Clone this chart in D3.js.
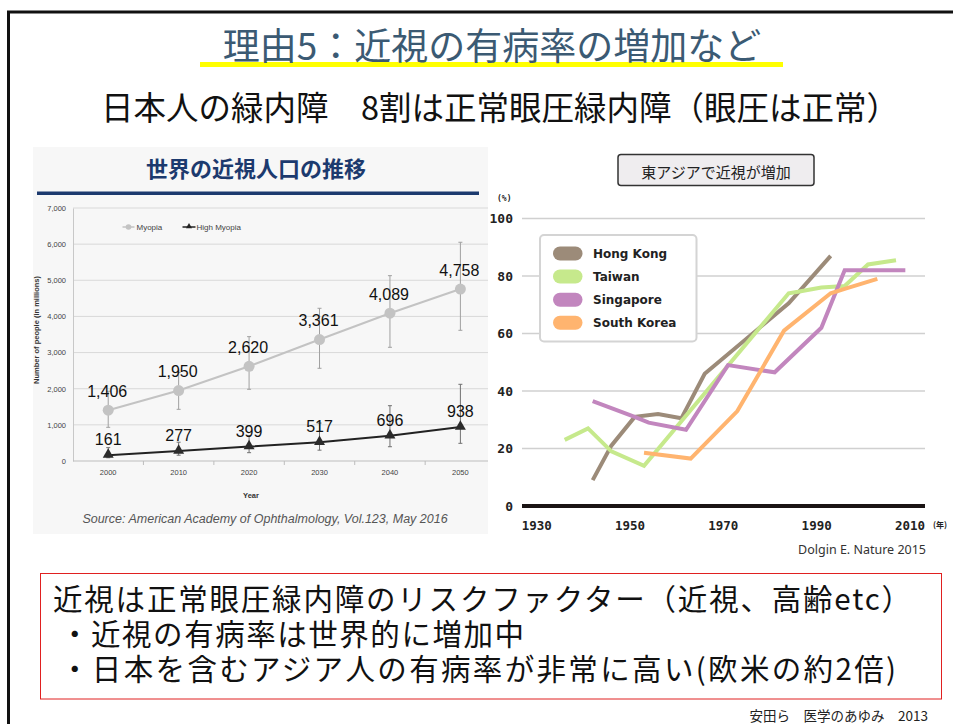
<!DOCTYPE html>
<html>
<head>
<meta charset="utf-8">
<script src="https://cdn.jsdelivr.net/npm/d3@7"></script>
<style>
  body { margin: 0; background: #fff; }
  svg { display: block; }
</style>
</head>
<body>
<svg id="slide" width="953" height="724"></svg>
<script>
// ---- World myopia population (millions) ----
const years = [2000, 2010, 2020, 2030, 2040, 2050];
const myopia = [1406, 1950, 2620, 3361, 4089, 4758];
const myopiaLow = [932, 1430, 1984, 2565, 3146, 3616];
const myopiaHigh = [1930, 2450, 3440, 4225, 5128, 6052];
const highMyopia = [161, 277, 399, 517, 696, 938];
const highMyopiaLow = [90, 160, 230, 300, 395, 489];
const highMyopiaHigh = [370, 520, 700, 1050, 1530, 2122];
const popTicks = [0, 1000, 2000, 3000, 4000, 5000, 6000, 7000];
const popSeriesNames = ["Myopia", "High Myopia"];

// ---- Myopia prevalence in East Asia (%) : [year, percent] ----
const regions = ["Hong Kong", "Taiwan", "Singapore", "South Korea"];
const regionColors = ["#9c8b79", "#c6e98c", "#c286be", "#ffb46f"];
const hongKong = [[1942, 9], [1946, 21], [1951, 31], [1956, 32], [1961, 30.5], [1966, 46], [1984, 70.5], [1993, 87]];
const taiwan = [[1936, 23], [1941, 27], [1946, 19], [1953, 14], [1984, 74], [1986, 74.5], [1991, 76], [1996, 76.5], [2001, 84], [2007, 85.5]];
const singapore = [[1942, 36.5], [1951, 31], [1954, 29], [1962, 26.5], [1971, 49], [1981, 46.5], [1991, 62], [1996, 82], [2009, 82]];
const southKorea = [[1953, 18.5], [1963, 16.5], [1973, 33], [1983, 61], [1993, 74], [1996, 75.5], [2003, 79]];
const rateTicks = [0, 20, 40, 60, 80, 100];
const yearTicks = [1930, 1950, 1970, 1990, 2010];

// ---- Slide texts ----
const slideTitle = "理由5：近視の有病率の増加など";
const slideSubtitle = "日本人の緑内障　8割は正常眼圧緑内障（眼圧は正常）";
const leftTitle = "世界の近視人口の推移";
const leftSource = "Source: American Academy of Ophthalmology, Vol.123, May 2016";
const rightTitle = "東アジアで近視が増加";
const rightSource = "Dolgin E. Nature 2015";
const noteLines = [
  "近視は正常眼圧緑内障のリスクファクター（近視、高齢etc）",
  "・近視の有病率は世界的に増加中",
  "・日本を含むアジア人の有病率が非常に高い(欧米の約2倍)"
];
const footer = "安田ら　医学のあゆみ　2013";

const svg = d3.select("#slide");
const JP = "'Noto Sans CJK JP', sans-serif";
const ARIAL = "'Liberation Sans', Arial, sans-serif";

// slide frame
svg.append("path")
  .attr("d", "M8.5,724 V12 H953")
  .attr("fill", "none").attr("stroke", "#111").attr("stroke-width", 3);

// title with yellow underline
svg.append("rect").attr("x", 200).attr("y", 62).attr("width", 583).attr("height", 5).attr("fill", "#ffff00");
svg.append("text").text(slideTitle)
  .attr("x", 492).attr("y", 44).attr("text-anchor", "middle").attr("dominant-baseline", "central")
  .attr("font-family", JP).attr("font-size", 37).attr("fill", "#3b5a73");
svg.append("text").text(slideSubtitle)
  .attr("x", 500).attr("y", 105).attr("text-anchor", "middle").attr("dominant-baseline", "central")
  .attr("font-family", JP).attr("font-size", 32.5).attr("fill", "#111");

// ================= LEFT CHART =================
const left = svg.append("g");
left.append("defs").append("clipPath").attr("id", "leftClip")
  .append("rect").attr("x", 33).attr("y", 147).attr("width", 455).attr("height", 387);
const lp = left.append("g").attr("clip-path", "url(#leftClip)");
lp.append("rect").attr("x", 33).attr("y", 147).attr("width", 455).attr("height", 387).attr("fill", "#f7f7f7");

lp.append("text").text(leftTitle)
  .attr("x", 256).attr("y", 167).attr("text-anchor", "middle").attr("dominant-baseline", "central")
  .attr("font-family", JP).attr("font-weight", 700).attr("font-size", 22).attr("fill", "#1c3a6e");
lp.append("rect").attr("x", 37).attr("y", 191.5).attr("width", 442).attr("height", 3.5).attr("fill", "#1c3a6e");

const xBand = d3.scaleBand().domain(years).range([73, 495.6]).padding(0);
const xc = d => xBand(d) + xBand.bandwidth() / 2;
const yPop = d3.scaleLinear().domain([0, 7000]).range([461, 208]);

// gridlines
lp.append("g").selectAll("line").data(popTicks.filter(t => t > 0)).join("line")
  .attr("x1", 73).attr("x2", 488).attr("y1", d => yPop(d)).attr("y2", d => yPop(d))
  .attr("stroke", "#d9d9d9").attr("stroke-width", 1);

// y axis
const yAxis = d3.axisLeft(yPop).tickValues(popTicks).tickFormat(d3.format(",")).tickSize(0).tickPadding(7);
const yg = lp.append("g").attr("transform", "translate(73,0)").call(yAxis);
yg.select(".domain").attr("stroke", "#c8c8c8");
yg.selectAll("text").attr("font-family", ARIAL).attr("font-size", 7.5).attr("fill", "#444");

// x axis with ticks between categories
lp.append("line").attr("x1", 73).attr("x2", 488).attr("y1", 461).attr("y2", 461).attr("stroke", "#bdbdbd");
lp.append("g").selectAll("line").data(years.slice(1)).join("line")
  .attr("x1", d => xBand(d)).attr("x2", d => xBand(d)).attr("y1", 461).attr("y2", 465)
  .attr("stroke", "#bdbdbd");
lp.append("g").selectAll("text").data(years).join("text").text(d => d)
  .attr("x", d => xc(d)).attr("y", 472.5).attr("text-anchor", "middle").attr("dominant-baseline", "central")
  .attr("font-family", ARIAL).attr("font-size", 7.5).attr("fill", "#444");
lp.append("text").text("Year").attr("x", 251).attr("y", 495.5)
  .attr("text-anchor", "middle").attr("dominant-baseline", "central")
  .attr("font-family", ARIAL).attr("font-weight", 700).attr("font-size", 7.5).attr("fill", "#333");
lp.append("text").text("Number of people (in millions)")
  .attr("transform", "translate(39,330) rotate(-90)").attr("text-anchor", "middle")
  .attr("font-family", ARIAL).attr("font-weight", 700).attr("font-size", 7.5).attr("fill", "#333");

// error bars
function errorBars(lo, hi, color) {
  const g = lp.append("g").attr("stroke", color).attr("stroke-width", 1);
  years.forEach((yr, i) => {
    const x = xc(yr);
    g.append("line").attr("x1", x).attr("x2", x).attr("y1", yPop(lo[i])).attr("y2", yPop(hi[i]));
    g.append("line").attr("x1", x - 2).attr("x2", x + 2).attr("y1", yPop(lo[i])).attr("y2", yPop(lo[i]));
    g.append("line").attr("x1", x - 2).attr("x2", x + 2).attr("y1", yPop(hi[i])).attr("y2", yPop(hi[i]));
  });
}
errorBars(myopiaLow, myopiaHigh, "#a0a0a0");
errorBars(highMyopiaLow, highMyopiaHigh, "#707070");

const popLine = d3.line().x((d, i) => xc(years[i])).y(d => yPop(d));
lp.append("path").datum(myopia).attr("d", popLine)
  .attr("fill", "none").attr("stroke", "#c3c3c3").attr("stroke-width", 2);
lp.append("path").datum(highMyopia).attr("d", popLine)
  .attr("fill", "none").attr("stroke", "#222").attr("stroke-width", 2);

lp.append("g").selectAll("circle").data(myopia).join("circle")
  .attr("cx", (d, i) => xc(years[i])).attr("cy", d => yPop(d)).attr("r", 5.5).attr("fill", "#c3c3c3");
const tri = d3.symbol().type(d3.symbolTriangle).size(52);
lp.append("g").selectAll("path").data(highMyopia).join("path")
  .attr("d", tri).attr("transform", (d, i) => `translate(${xc(years[i])},${yPop(d) - 0.5})`).attr("fill", "#2b2b2b");

// value labels
lp.append("g").selectAll("text").data(myopia).join("text").text(d => d3.format(",")(d))
  .attr("x", (d, i) => xc(years[i]) - 1).attr("y", d => yPop(d) - 19)
  .attr("text-anchor", "middle").attr("dominant-baseline", "central")
  .attr("font-family", ARIAL).attr("font-size", 16).attr("fill", "#111");
lp.append("g").selectAll("text").data(highMyopia).join("text").text(d => d3.format(",")(d))
  .attr("x", (d, i) => xc(years[i])).attr("y", d => yPop(d) - 15.5)
  .attr("text-anchor", "middle").attr("dominant-baseline", "central")
  .attr("font-family", ARIAL).attr("font-size", 16).attr("fill", "#111");

// legend
const lg = lp.append("g");
lg.append("line").attr("x1", 122.5).attr("x2", 134.5).attr("y1", 227).attr("y2", 227).attr("stroke", "#c3c3c3").attr("stroke-width", 1.5);
lg.append("circle").attr("cx", 128.5).attr("cy", 227).attr("r", 2.8).attr("fill", "#c3c3c3");
lg.append("text").text(popSeriesNames[0]).attr("x", 136.5).attr("y", 227).attr("dominant-baseline", "central")
  .attr("font-family", ARIAL).attr("font-size", 8).attr("fill", "#444");
lg.append("line").attr("x1", 182.5).attr("x2", 195.5).attr("y1", 227).attr("y2", 227).attr("stroke", "#222").attr("stroke-width", 1.5);
lg.append("path").attr("d", d3.symbol().type(d3.symbolTriangle).size(16)).attr("transform", "translate(189,226.5)").attr("fill", "#222");
lg.append("text").text(popSeriesNames[1]).attr("x", 196.5).attr("y", 227).attr("dominant-baseline", "central")
  .attr("font-family", ARIAL).attr("font-size", 8).attr("fill", "#444");

lp.append("text").text(leftSource).attr("x", 265).attr("y", 519)
  .attr("text-anchor", "middle").attr("dominant-baseline", "central")
  .attr("font-family", ARIAL).attr("font-style", "italic").attr("font-size", 12.5).attr("fill", "#555");

// ================= RIGHT CHART =================
const right = svg.append("g");
const MONO = "'DejaVu Sans Mono', monospace";
const xYear = d3.scaleLinear().domain([1930, 2010]).range([536.7, 910]);
const yRate = d3.scaleLinear().domain([0, 100]).range([506, 218.5]);

right.append("rect").attr("x", 618).attr("y", 154.5).attr("width", 196).attr("height", 31).attr("rx", 3)
  .attr("fill", "#efedef").attr("stroke", "#333").attr("stroke-width", 1.5);
right.append("text").text(rightTitle).attr("x", 716).attr("y", 171)
  .attr("text-anchor", "middle").attr("dominant-baseline", "central")
  .attr("font-family", JP).attr("font-size", 15).attr("fill", "#222");

right.append("text").text("(%)").attr("x", 497).attr("y", 198).attr("dominant-baseline", "central")
  .attr("font-family", MONO).attr("font-weight", 700).attr("font-size", 8).attr("fill", "#222");

right.append("g").selectAll("line").data(rateTicks.filter(t => t > 0)).join("line")
  .attr("x1", 522).attr("x2", 925).attr("y1", d => yRate(d)).attr("y2", d => yRate(d))
  .attr("stroke", "#d0d0d0").attr("stroke-width", 1.5);
right.append("g").selectAll("text").data(rateTicks).join("text").text(d => d)
  .attr("x", 513).attr("y", d => yRate(d)).attr("text-anchor", "end").attr("dominant-baseline", "central")
  .attr("font-family", MONO).attr("font-weight", 700).attr("font-size", 13).attr("fill", "#222");
right.append("line").attr("x1", 522).attr("x2", 925).attr("y1", yRate(0)).attr("y2", yRate(0))
  .attr("stroke", "#1a1414").attr("stroke-width", 4);
right.append("g").selectAll("text").data(yearTicks).join("text").text(d => d)
  .attr("x", d => xYear(d)).attr("y", 525).attr("text-anchor", "middle").attr("dominant-baseline", "central")
  .attr("font-family", MONO).attr("font-weight", 700).attr("font-size", 12.5).attr("fill", "#222");
right.append("text").text("(年)").attr("x", 933).attr("y", 524).attr("dominant-baseline", "central")
  .attr("font-family", JP).attr("font-weight", 700).attr("font-size", 8).attr("fill", "#222");

const rateLine = d3.line().x(d => xYear(d[0])).y(d => yRate(d[1]));
[hongKong, taiwan, singapore, southKorea].forEach((series, i) => {
  right.append("path").datum(series).attr("d", rateLine)
    .attr("fill", "none").attr("stroke", regionColors[i]).attr("stroke-width", 4)
    .attr("stroke-linejoin", "miter");
});

// legend
right.append("rect").attr("x", 540).attr("y", 235).attr("width", 156.5).attr("height", 106.5).attr("rx", 4)
  .attr("fill", "#fff").attr("stroke", "#d4d4d4").attr("stroke-width", 2);
const legY = [253.5, 276.5, 299.8, 322.7];
regions.forEach((name, i) => {
  right.append("rect").attr("x", 553).attr("y", legY[i] - 7).attr("width", 29.5).attr("height", 14).attr("rx", 7)
    .attr("fill", regionColors[i]);
  right.append("text").text(name).attr("x", 593).attr("y", legY[i]).attr("dominant-baseline", "central")
    .attr("font-family", "'DejaVu Sans', sans-serif").attr("font-weight", 700).attr("font-size", 12).attr("fill", "#222");
});

right.append("text").text(rightSource).attr("x", 926).attr("y", 549)
  .attr("text-anchor", "end").attr("dominant-baseline", "central")
  .attr("font-family", "'Noto Sans', sans-serif").attr("font-size", 12.5).attr("fill", "#333");

// ================= NOTE BOX =================
svg.append("rect").attr("x", 40.5).attr("y", 573.5).attr("width", 901).attr("height", 125.5)
  .attr("fill", "none").attr("stroke", "#e02020").attr("stroke-width", 1);
const noteY = [597, 632, 667];
const noteX = [53, 60, 60];
const noteWidth = [858, 464, 836];
svg.append("g").selectAll("text").data(noteLines).join("text").text(d => d)
  .attr("x", (d, i) => noteX[i]).attr("y", (d, i) => noteY[i]).attr("dominant-baseline", "central")
  .attr("textLength", (d, i) => noteWidth[i]).attr("lengthAdjust", "spacing")
  .attr("font-family", JP).attr("font-size", 29.5).attr("fill", "#111");

svg.append("text").text(footer).attr("x", 928).attr("y", 715)
  .attr("text-anchor", "end").attr("dominant-baseline", "central")
  .attr("font-family", JP).attr("font-size", 13.5).attr("fill", "#222");
</script>
</body>
</html>
